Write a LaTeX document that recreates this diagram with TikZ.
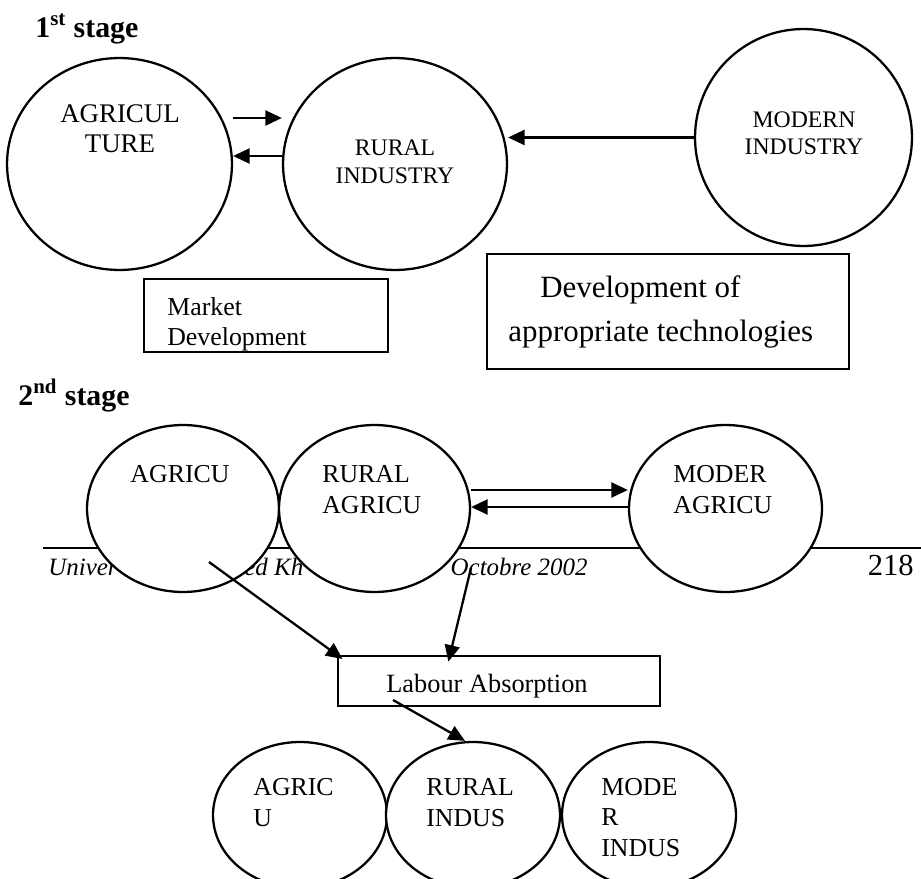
\documentclass[tikz,border=0pt]{standalone}
\usepackage{fontspec}
\setmainfont{Liberation Serif}
\usetikzlibrary{shapes.geometric, arrows.meta}

\begin{document}
\begin{tikzpicture}[x=0.02cm, y=-0.02cm,
        blob/.style={ellipse, draw, line width=1.3pt, fill=white, inner sep=0pt},
        box/.style={rectangle, draw, line width=1.3pt, inner sep=0pt},
        arr/.style={-{Triangle[length=0.33cm, width=0.3cm]}, line width=1.3pt},
        txt/.style={inner sep=0pt, font=\fontsize{14.7}{17.6}\selectfont},
        stagetitle/.style={inner sep=0pt, anchor=base west, font=\fontsize{17}{20}\selectfont\bfseries}]
        \clip (0,0) rectangle (921,879);

        % first stage
        \node[stagetitle] (st1) at (35,37) {1\textsuperscript{st} stage};
        \node[blob, minimum width=4.5cm, minimum height=4.24cm] (agr1) at (119.5,164) {};
        \node[blob, minimum width=4.48cm, minimum height=4.24cm] (rur1) at (395,164) {};
        \node[blob, minimum width=4.34cm, minimum height=4.34cm] (mod1) at (803.5,137.5) {};
        \node[txt, anchor=base, align=center, font=\fontsize{15.3}{17.6}\selectfont] (agr1txt) at (120,153) {AGRICUL\\TURE};
        \node[txt, anchor=base, align=center, font=\fontsize{13.5}{15.9}\selectfont] (rur1txt) at (395,183) {RURAL\\INDUSTRY};
        \node[txt, anchor=base, align=center, font=\fontsize{13.5}{15.3}\selectfont] (mod1txt) at (804,154) {MODERN\\INDUSTRY};

        \node[box, minimum width=4.88cm, minimum height=1.46cm] (mkt) at (266,315.5) {};
        \node[txt, anchor=base west, align=left, font=\fontsize{14.7}{17}\selectfont] (mkttxt) at (167,345) {Market\\Development};
        \node[box, minimum width=7.24cm, minimum height=2.3cm] (dev) at (668,311.5) {};
        \node[txt, anchor=base west, align=left, font=\fontsize{17.6}{25}\selectfont] (devtxt) at (508,341) {\hspace*{0.64cm}Development of\\appropriate technologies};

        \draw[arr] (agr1.east |- 0,118) -- (rur1.west |- 0,118);
        \draw[arr] (rur1.west |- 0,156) -- (agr1.east |- 0,156);
        \draw[arr] (mod1.west) -- (rur1.east |- mod1.west);

        % second stage
        \node[stagetitle] (st2) at (18,405) {2\textsuperscript{nd} stage};
        \draw[line width=1.3pt] (43,548) -- (921,548);
        \node[txt, anchor=base west, font=\fontsize{14.2}{17}\selectfont\itshape] (foot1) at (48,575) {Univer};
        \node[txt, anchor=base west, font=\fontsize{14.2}{17}\selectfont\itshape] (foot2) at (244,575) {ed Kh};
        \node[txt, anchor=base east, font=\fontsize{14.2}{17}\selectfont\itshape] (foot3) at (588,575) {Octobre 2002};
        \node[txt, anchor=base east, font=\fontsize{17.4}{20}\selectfont] (page) at (914,575) {218};

        \node[blob, minimum width=3.84cm, minimum height=3.34cm] (agr2) at (183,508.5) {};
        \node[blob, minimum width=3.82cm, minimum height=3.34cm] (rur2) at (374.5,508.5) {};
        \node[blob, minimum width=3.86cm, minimum height=3.34cm] (mod2) at (725.5,508.5) {};
        \node[txt, anchor=base] (agr2txt) at (180,482) {AGRICU};
        \node[txt, anchor=base west, align=left] (rur2txt) at (322,513) {RURAL\\AGRICU};
        \node[txt, anchor=base west, align=left] (mod2txt) at (673,513) {MODER\\AGRICU};

        \draw[arr] (rur2.east |- 0,490) -- (mod2.west |- 0,490);
        \draw[arr] (mod2.west |- 0,507) -- (rur2.east |- 0,507);

        \node[box, minimum width=6.44cm, minimum height=1cm] (lab) at (499,681) {};
        \node[txt, anchor=base west, font=\fontsize{15}{18}\selectfont] (labtxt) at (386,692) {Labour Absorption};

        \coordinate (agrout) at (209,562);
        \coordinate (rurout) at (471,568);
        \coordinate (labout) at (393,700);
        \draw[arr, shorten >=-0.14cm] (agrout) -- (lab.north west);
        \draw[arr, shorten >=-0.14cm] (rurout) -- (lab.north -| 450,0);

        \node[blob, minimum width=3.48cm, minimum height=2.92cm] (agr3) at (300,815) {};
        \node[blob, minimum width=3.48cm, minimum height=2.92cm] (rur3) at (473,815) {};
        \node[blob, minimum width=3.48cm, minimum height=2.92cm] (mod3) at (649,815) {};
        \node[txt, anchor=base west, align=left] (agr3txt) at (253,826) {AGRIC\\U};
        \node[txt, anchor=base west, align=left] (rur3txt) at (426,826) {RURAL\\INDUS};
        \node[txt, anchor=base west, align=left, font=\fontsize{14.7}{17.3}\selectfont] (mod3txt) at (601,856) {MODE\\R\\INDUS};

        \draw[arr] (labout) -- (rur3.north -| 465,0);
    \end{tikzpicture}
\end{document}
